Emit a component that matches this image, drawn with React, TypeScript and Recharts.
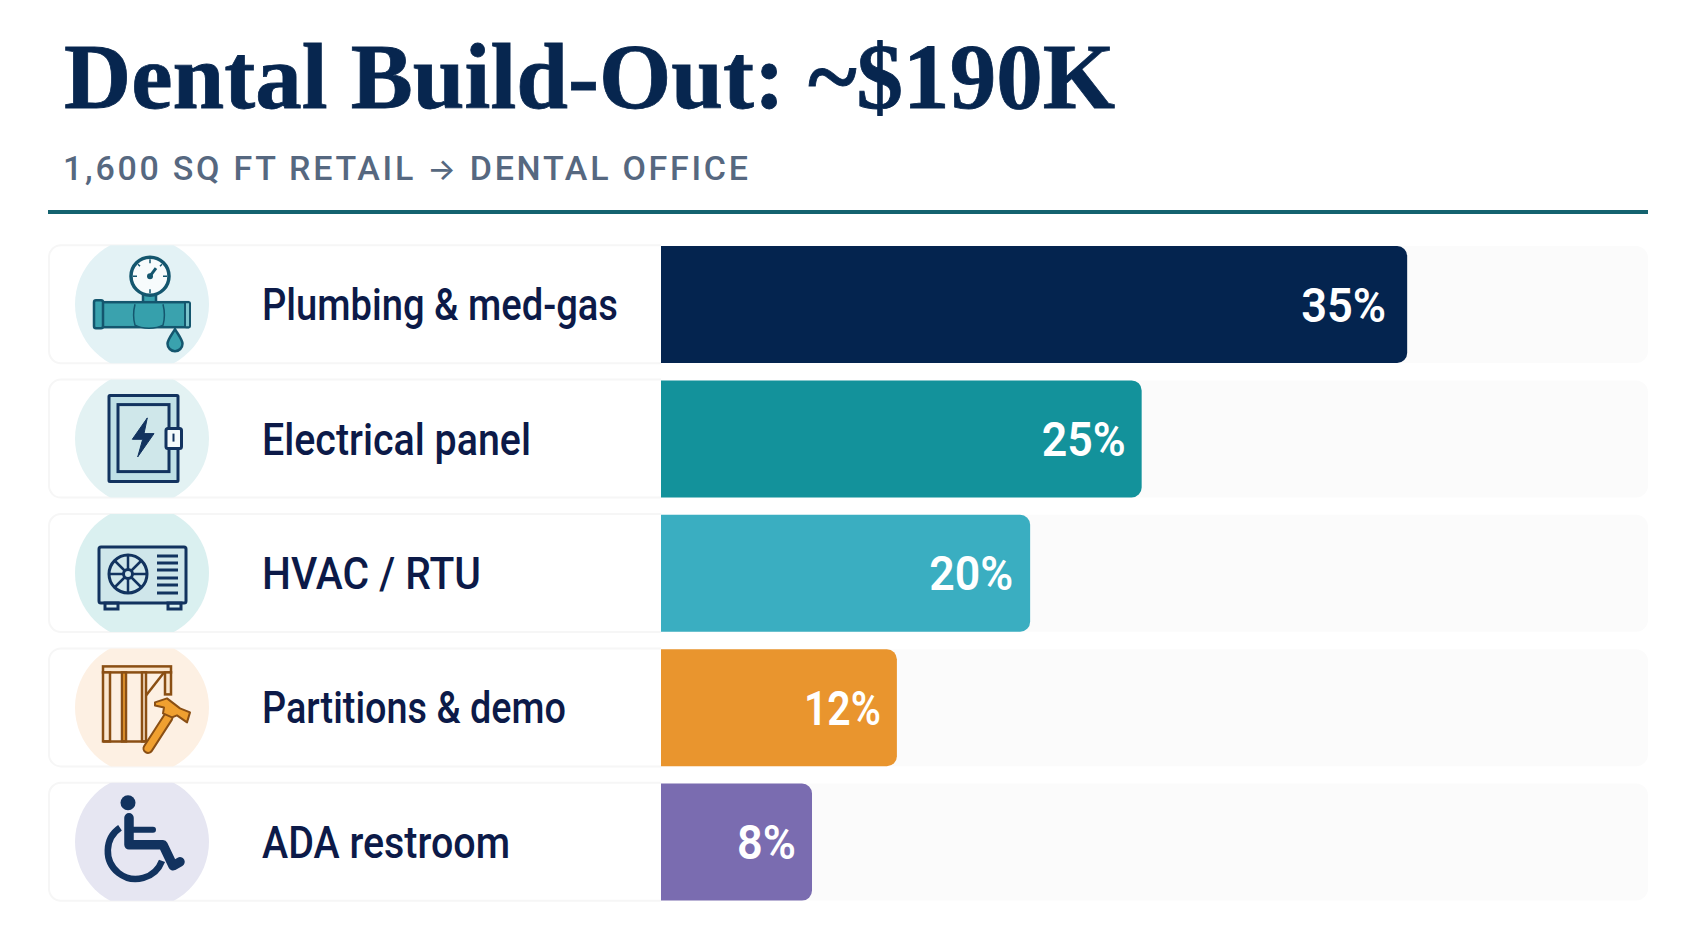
import React from 'react'
import { BarChart, Bar, XAxis, YAxis, Cell, LabelList } from 'recharts'

const categories = ['Plumbing & med-gas', 'Electrical panel', 'HVAC / RTU', 'Partitions & demo', 'ADA restroom']
// printed shares
const shareLabels = ['35%', '25%', '20%', '12%', '8%']
// bar length as % of the grey track (the drawn bars are not proportional to the printed shares)
const barLengths = [75.6, 48.7, 37.4, 23.9, 15.3]
const barColors = ['#04244f', '#13929b', '#3aaec1', '#e9952e', '#7a6cb0']
const circleColors = ['#e3f2f5', '#e3f2f3', '#daf0f0', '#fdf0e3', '#e6e6f2']

const labelWidths = [356, 269, 219, 304, 248]
const shareWidths = [85, 84, 84, 77, 59]
const shareInsets = [21, 16, 17, 16, 16]

const data = categories.map((name, i) => ({ name, length: barLengths[i], share: shareLabels[i] }))

const NAVY = '#12335f'
const TEAL = '#3aa2ae'
const DEEP_TEAL = '#14566e'
const BROWN = '#8a4f14'
const ORANGE = '#f0a030'

const PlumbingIcon = () => (
  <g>
    <path d="M1 -10 H14 V0 H1 Z" fill={TEAL} stroke={DEEP_TEAL} strokeWidth={2.5} />
    <circle cx={8} cy={-28} r={19} fill="#f7fbfc" stroke={DEEP_TEAL} strokeWidth={3.5} />
    <path d="M8 -28 L14 -36" stroke={DEEP_TEAL} strokeWidth={3} />
    <circle cx={8} cy={-28} r={3} fill={DEEP_TEAL} />
    <path d="M8 -45 V-41 M8 -15 V-11 M-9 -28 H-5 M21 -28 H25 M-4 -40 L-2 -38 M20 -40 L18 -38" stroke={DEEP_TEAL} strokeWidth={1.5} />
    <rect x={-44} y={-2} width={90} height={25} fill={TEAL} stroke={DEEP_TEAL} strokeWidth={2.5} />
    <path d="M-7 0 C-9 8 -9 14 -7 21 C0 25 14 25 21 21 C23 14 23 8 21 0" fill="#36a0ac" stroke={DEEP_TEAL} strokeWidth={1.5} />
    <rect x={-48} y={-4} width={9} height={28} rx={2} fill={TEAL} stroke={DEEP_TEAL} strokeWidth={2.5} />
    <rect x={43} y={-2} width={5} height={25} rx={1} fill="#7cc4cc" stroke={DEEP_TEAL} strokeWidth={2} />
    <path d="M33 25 C28 33 25.5 36 25.5 39.5 A7.5 7.5 0 0 0 40.5 39.5 C40.5 36 38 33 33 25 Z" fill={TEAL} stroke={DEEP_TEAL} strokeWidth={2.5} />
  </g>
)

const PanelIcon = () => (
  <g fill="none" stroke={NAVY} strokeWidth={3}>
    <rect x={-33} y={-43} width={69} height={86} rx={1} fill="#bfe0e6" />
    <rect x={-24} y={-34} width={51} height={67} fill="#cfe7ea" />
    <rect x={24} y={-10} width={15.5} height={20} rx={2} fill="#f4fafb" />
    <path d="M31.5 -5 V3" strokeWidth={2} />
    <path d="M5.3 -20.7 L-9.7 0.7 H0.7 L-4.3 18.3 L12 -5 H2 Z" fill={NAVY} strokeWidth={1} />
  </g>
)

const HvacIcon = () => (
  <g fill="none" stroke={NAVY} strokeWidth={3}>
    <rect x={-43} y={-26} width={87} height={56} rx={2} fill="#cfe6ea" />
    <rect x={-37} y={30} width={13} height={6} />
    <rect x={26} y={30} width={13} height={6} />
    <circle cx={-14} cy={1} r={19} />
    <circle cx={-14} cy={1} r={4.5} />
    <path d="M-14 -18 V-3 M-14 5 V20 M-33 1 H-18 M-10 1 H5 M-27 -12 L-17 -2 M-11 4 L-1 14 M-1 -12 L-11 -2 M-17 4 L-27 14" strokeWidth={2.5} />
    <path d="M15 -17 H36 M15 -10 H36 M15 -3 H36 M15 5 H36 M15 12 H36 M15 20 H36" />
  </g>
)

const PartitionIcon = () => (
  <g>
    <g fill="#fbe7cf" stroke={BROWN} strokeWidth={2.5}>
      <rect x={-39} y={-41} width={68} height={6} />
      <rect x={-39} y={-35} width={7} height={69} />
      <rect x={-20} y={-35} width={4} height={69} fill={ORANGE} />
      <rect x={0} y={-35} width={4} height={69} />
      <rect x={23} y={-35} width={6} height={22} />
      <path d="M-39 34 H3" fill="none" />
      <path d="M4 -12 L22 -35" fill="none" />
    </g>
    <path d="M6 41 L26 10" stroke={BROWN} strokeWidth={11} strokeLinecap="round" />
    <path d="M6 41 L26 10" stroke={ORANGE} strokeWidth={7} strokeLinecap="round" />
    <path d="M13 -5 L25 -9 L38 1 L48 5 L45 15 L35 8 L30 10 L21 6 L22 0 L13 -2 Z" fill={ORANGE} stroke={BROWN} strokeWidth={2} strokeLinejoin="round" />
  </g>
)

const WheelchairIcon = () => (
  <g fill="none" stroke={NAVY}>
    <circle cx={-14} cy={-39} r={7.5} fill={NAVY} stroke="none" />
    <path d="M-13 -24 V3 H21 L31 24 L38 20" strokeWidth={9.5} strokeLinejoin="round" strokeLinecap="round" />
    <path d="M-10 -12 H11" strokeWidth={6} strokeLinecap="round" />
    <path d="M-22 -14 A28 28 0 1 0 20 19" strokeWidth={6.5} />
  </g>
)

const icons = [PlumbingIcon, PanelIcon, HvacIcon, PartitionIcon, WheelchairIcon]

// the left part of each row (card, icon, name) is the y axis tick
const RowTick = (props: any) => {
  const { y, payload, index } = props
  const Icon = icons[index]
  return (
    <g transform={`translate(142, ${y})`}>
      <clipPath id={`clip-${index}`}>
        <rect x={-93} y={-59} width={612} height={118} />
      </clipPath>
      <path d="M519 -59 H-81 A12 12 0 0 0 -93 -47 V47 A12 12 0 0 0 -81 59 H519" fill="#fff" stroke="#f6f6f6" strokeWidth={2} />
      <circle cx={0} cy={0} r={67} fill={circleColors[index]} clipPath={`url(#clip-${index})`} />
      <Icon />
      <text
        x={120}
        y={0}
        dy={16}
        fontFamily="Roboto, sans-serif"
        fontWeight={500}
        fontSize={44}
        fill="#0c1a48"
        textLength={labelWidths[index]}
        lengthAdjust="spacingAndGlyphs"
      >
        {payload.value}
      </text>
    </g>
  )
}

const ShareLabel = (props: any) => {
  const { x, y, width, height, value, index } = props
  return (
    <text
      x={x + width - shareInsets[index]}
      y={y + height / 2}
      dy={17}
      textAnchor="end"
      fill="#fff"
      fontFamily="Roboto, sans-serif"
      fontWeight={600}
      fontSize={48}
      textLength={shareWidths[index]}
      lengthAdjust="spacingAndGlyphs"
    >
      {value}
    </text>
  )
}

export default function App() {
  return (
    <div style={{ position: 'absolute', left: 0, top: 0, width: 1693, height: 929, background: '#fff' }}>
      <svg width={1693} height={929} style={{ position: 'absolute', left: 0, top: 0 }}>
        <text
          x={64}
          y={108}
          fontFamily="'Liberation Serif', serif"
          fontWeight={700}
          fontSize={94}
          fill="#07264f"
          stroke="#07264f"
          strokeWidth={0.8}
          textLength={1051}
          lengthAdjust="spacingAndGlyphs"
        >
          Dental Build-Out: ~$190K
        </text>
        <text
          x={63}
          y={180}
          fontFamily="Roboto, sans-serif"
          fontWeight={500}
          fontSize={34}
          fill="#566880"
          textLength={685}
          lengthAdjust="spacing"
        >
          1,600 SQ FT RETAIL <tspan fontFamily="Inter, sans-serif" fontSize={30}>→</tspan> DENTAL OFFICE
        </text>
        <rect x={48} y={210} width={1600} height={4} fill="#14636f" />
      </svg>
      <div style={{ position: 'absolute', left: 0, top: 0 }}>
        <BarChart
          width={1693}
          height={929}
          data={data}
          layout="vertical"
          margin={{ top: 237, right: 45, bottom: 20, left: 0 }}
        >
          <XAxis type="number" domain={[0, 100]} hide />
          <YAxis
            type="category"
            dataKey="name"
            width={661}
            axisLine={false}
            tickLine={false}
            interval={0}
            tick={<RowTick />}
          />
          <Bar
            dataKey="length"
            barSize={117}
            radius={[0, 10, 10, 0]}
            background={{ fill: '#fbfbfb', radius: [0, 12, 12, 0] } as any}
            isAnimationActive={false}
          >
            {data.map((d, i) => (
              <Cell key={d.name} fill={barColors[i]} />
            ))}
            <LabelList dataKey="share" content={<ShareLabel />} />
          </Bar>
        </BarChart>
      </div>
    </div>
  )
}
